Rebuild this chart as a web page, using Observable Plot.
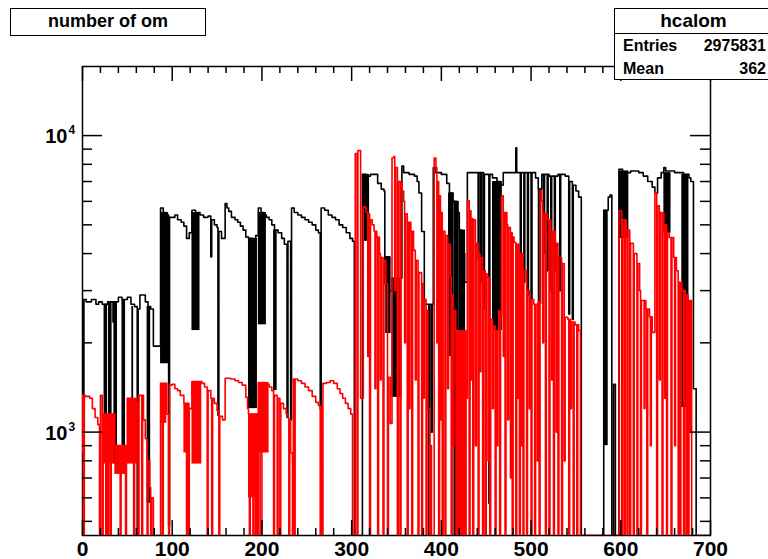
<!DOCTYPE html>
<html>
<head>
<meta charset="utf-8">
<script src="https://cdn.jsdelivr.net/npm/d3@7"></script>
<script src="https://cdn.jsdelivr.net/npm/@observablehq/plot@0.6"></script>
<style>
  html, body { margin: 0; padding: 0; background: #fff; }
  #wrap { position: relative; width: 768px; height: 559px; overflow: hidden;
          font-family: "Liberation Sans", Arial, Helvetica, sans-serif; font-weight: bold; color: #000; }
  #chart { position: absolute; left: 0; top: 0; }
  .box { position: absolute; background: #fff; border: 1.5px solid #000; box-sizing: border-box; }
  #title { left: 10px; top: 8px; width: 196px; height: 28px; font-size: 18px;
           text-align: center; line-height: 25px; }
  #stats { left: 614px; top: 8px; width: 159px; height: 72px; }
  #stats .hdr { height: 24px; border-bottom: 1.5px solid #000; text-align: center;
                font-size: 19px; line-height: 23px; }
  #stats .row { position: relative; height: 23px; font-size: 16px; line-height: 23px; }
  #stats .row .k { position: absolute; left: 8px; }
  #stats .row .v { position: absolute; right: 6px; }
</style>
</head>
<body>
<div id="wrap">
  <div id="chart"></div>
  <div class="box" id="title">number of om</div>
  <div class="box" id="stats">
    <div class="hdr">hcalom</div>
    <div class="row"><span class="k">Entries</span><span class="v">2975831</span></div>
    <div class="row"><span class="k">Mean</span><span class="v">362</span></div>
  </div>
</div>
<script>
// ---------------- data ----------------
const xDomain = [0, 700];
const yDomain = [448, 17100];

// black histogram: [bin start, level] steps (0 = empty bin)
const blackSteps = [
  [0,2800],[4,2750],[10,2800],[15,2700],[18,2750],[22,2700],[28,2750],[34,2350],[35,2750],[40,2850],
  [44,2800],[50,2850],[54,2700],[58,2650],[61,2600],[64,2900],[70,2750],[73,2650],[76,2600],[79,1950],
  [87,5700],[90,5500],[93,5400],[97,5300],[103,5400],[106,5200],[110,5100],[113,4950],[116,4500],[119,4700],
  [122,5600],[126,5500],[131,5400],[135,5300],[140,5350],[143,3900],[144,5200],[147,5000],[150,4900],[152,4750],
  [155,4500],[159,5900],[161,5700],[163,5550],[166,5300],[170,5200],[173,5100],[176,4950],[179,4800],[182,4550],
  [185,4500],[190,4400],[193,4600],[196,5700],[199,5500],[202,5400],[205,5300],[208,5200],[211,5000],[214,4800],
  [218,4700],[222,4500],[225,4300],[229,4400],[233,5700],[236,5500],[240,5400],[244,5300],[248,5200],[252,5100],
  [256,5000],[260,4800],[263,4700],[266,5700],[270,5600],[274,5400],[278,5300],[282,5200],[286,5000],[290,4900],
  [294,4700],[298,4500],[301,4400],[303,0],[312,7400],[316,7300],[321,7400],[329,6900],[333,6600],[336,6500],
  [338,3900],[342,3000],[345,3300],[356,7900],[358,7500],[364,7400],[370,7300],[373,7000],[375,6400],[378,4750],
  [381,2700],[391,7800],[393,7500],[400,7400],[406,6900],[409,6400],[413,6000],[417,5500],[420,4800],[423,4000],
  [426,3200],[429,7500],[440,7500],[448,7400],[457,7200],[462,7000],[466,6800],[469,7500],[505,7200],[508,6600],
  [512,7400],[520,7300],[530,7400],[538,7300],[542,7000],[546,6800],[550,6500],[553,6200],[556,0],[581,5600],
  [586,6200],[588,6300],[590,0],[592,1450],[594,0],[598,7700],[602,7500],[611,7600],[620,7500],[625,7300],
  [630,7000],[635,6700],[638,6400],[641,7200],[645,7500],[648,7800],[650,7600],[660,7500],[670,7400],[676,7200],
  [678,7000],[681,1400],[684,0]
];
// black single-bin dips / spikes: [bin, value]
const blackDips = [
  [61,0],[96,480],[151,1140],[228,1120],[232,1100],[265,1200],[337,3170],[386,0],[389,1000],
  [441,3800],[444,3200],[447,2600],[453,575],[483,9100],[488,3600],[492,3200],[496,2900],[500,2800],
  [514,4000],[518,3500],[522,3000],[526,3500],[532,3000],[542,2500],[546,2400]
];
// black dense oscillation envelopes: [x0, x1, low, high]
const blackBands = [
  [0,3,1300,2800],[24,28,920,2700],[29,33,800,2750],[35,39,780,2750],[44,48,780,2800],[55,57,800,2650],
  [72,76,575,2650],[87,96,1700,5500],[122,131,2200,5500],[185,195,1200,4500],[196,205,2300,5500],
  [213,217,1380,4800],[312,320,4400,7400],[338,344,2150,3900],[345,356,1310,3300],[408,414,1800,6400],
  [414,420,448,6000],[420,427,1490,4800],[457,468,2200,7000],[508,512,2700,6600],[581,586,900,5600],
  [598,609,4500,7600],[648,656,4680,7500],[668,676,1210,7400]
];

// red histogram: [bin start, level] steps (0 = empty bin)
const redSteps = [
  [0,1330],[3,1320],[8,1300],[11,1200],[14,1120],[17,1060],[19,0],[20,1330],[23,1150],[36,900],
  [50,1300],[58,1250],[63,1330],[68,1100],[70,950],[73,800],[75,650],[77,600],[79,0],[87,1460],
  [94,1150],[96,0],[97,1440],[100,1450],[103,1400],[106,1380],[109,1330],[113,1250],[119,1200],[122,1480],
  [133,1460],[136,1420],[140,1380],[143,1300],[147,1250],[150,1180],[153,1130],[156,1100],[159,1520],[165,1510],
  [170,1490],[174,1470],[178,1440],[182,1310],[184,1200],[185,1150],[195,0],[196,1470],[203,1460],[206,1450],
  [208,1420],[211,1380],[214,1330],[218,1300],[221,1250],[224,1200],[227,1150],[229,1120],[231,1100],[232,850],
  [234,0],[235,1510],[240,1490],[244,1460],[248,1420],[252,1380],[256,1320],[260,1260],[263,1230],[265,0],
  [266,1220],[267,0],[268,1460],[272,1470],[276,1490],[280,1460],[284,1400],[287,1350],[290,1300],[293,1250],
  [296,1200],[299,1150],[301,0],[304,8700],[306,0],[307,8900],[310,1300],[313,5750],[316,5500],[319,5450],
  [321,5200],[323,5000],[325,4760],[328,4550],[331,4000],[333,3880],[336,3800],[338,3170],[340,2500],[341,1530],
  [343,1070],[345,8400],[347,8500],[349,7800],[352,7000],[356,6500],[358,6000],[360,5450],[363,5100],[366,4760],
  [369,4100],[372,3800],[375,3450],[378,3170],[381,2800],[383,2570],[385,1200],[387,0],[388,900],[390,0],
  [392,8400],[394,7800],[396,7000],[398,6270],[400,5500],[402,4760],[405,4600],[408,4300],[410,3330],[412,2900],
  [414,2570],[416,2200],[420,1800],[424,1500],[427,1300],[429,6040],[432,5580],[434,5250],[436,5200],[438,4330],
  [441,4000],[444,3880],[447,3500],[449,3420],[451,3330],[455,2400],[458,2280],[460,2200],[464,2570],[466,2450],
  [467,6270],[470,5500],[473,5000],[475,4900],[477,4700],[479,4550],[481,4360],[484,4300],[488,4000],[492,3500],
  [495,3000],[499,2800],[503,2700],[507,2750],[510,6530],[512,6000],[514,5460],[518,5200],[522,4760],[527,4330],
  [531,3880],[535,3700],[538,2440],[541,2400],[545,2350],[549,2300],[553,2200],[555,0],[598,5580],[602,5200],
  [606,4800],[611,4330],[615,4000],[618,3700],[621,3000],[623,2780],[628,2600],[632,2450],[635,2170],[638,6430],
  [641,5800],[644,5500],[648,5000],[651,4700],[654,4530],[659,3880],[662,3500],[665,3200],[668,3000],[672,2900],
  [676,2780],[679,0]
];
// red single-bin dips: [bin, value]
const redDips = [
  [1,0],[22,0],[26,0],[28,0],[31,0],[42,0],[48,0],[57,0],[62,0],[66,0],[72,0],[76,0],[83,0],[89,0],
  [116,0],[118,0],[139,0],[144,0],[152,0],[186,0],[190,0],[193,0],[198,0],[199,0],[213,0],[217,0],
  [220,0],[230,0],[236,0],
  [318,1800],[320,0],[326,1400],[329,0],[332,1500],[335,0],[340,0],[348,3000],[351,0],[354,0],[359,2000],
  [362,0],[364,1200],[367,0],[371,1500],[374,0],[378,0],[380,1300],[383,0],[389,0],[395,2000],[397,0],
  [399,1100],[401,0],[404,0],[407,1400],[411,0],[413,900],[419,0],[424,0],[431,0],[433,1500],[435,0],
  [438,900],[441,0],[443,1600],[446,0],[449,0],[452,800],[454,0],[457,1200],[460,0],[462,900],[465,0],
  [469,1800],[471,0],[474,1100],[477,700],[479,0],[483,0],[485,1300],[487,0],[489,900],[491,0],[495,0],
  [498,1200],[500,0],[504,0],[507,800],[509,0],[513,2000],[516,0],[520,0],[523,1500],[525,0],[528,1000],
  [530,0],[534,0],[537,800],[542,0],[544,1200],[547,0],[551,0],
  [601,0],[604,0],[607,0],[610,0],[614,0],[618,0],[622,0],[626,1200],[629,0],[633,900],[640,0],[643,1500],
  [646,0],[649,1300],[651,0],[656,0],[660,900],[664,0],[666,0],[670,0],[673,0],[675,0],[677,1000]
];
// red dense oscillation envelopes: [x0, x1, low, high]
const redBands = [
  [0,3,850,1330],[23,36,780,1150],[36,50,720,900],[50,62,780,1300],[87,94,1070,1460],[113,120,850,1250],
  [122,133,780,1480],[185,195,600,1150],[196,208,850,1470],[416,429,448,2200]
];

const xMajorTicks = [0, 100, 200, 300, 400, 500, 600, 700];
const yMajorTicks = [1000, 10000];
const yMinorTicks = [500, 600, 700, 800, 900, 2000, 3000, 4000, 5000, 6000, 7000, 8000, 9000];

// ---------------- build ----------------
const W = 768, H = 559, mL = 82, mR = 58, mT = 66, mB = 24;
const xMinorTicks = d3.range(0, 701, 20).filter(v => v % 100 !== 0);

function histPoints(steps, dips) {
  const n = xDomain[1];
  const v = new Array(n);
  let j = 0;
  for (let i = 0; i < n; i++) {
    while (j + 1 < steps.length && steps[j + 1][0] <= i) j++;
    v[i] = steps[j][1];
  }
  dips.forEach(([b, val]) => { v[b] = val; });
  const pts = v.map((val, i) => ({x: i, y: val > 0 ? Math.max(val, yDomain[0]) : yDomain[0]}));
  pts.push({x: n, y: pts[n - 1].y});
  return pts;
}
const blackPts = histPoints(blackSteps, blackDips);
const redPts = histPoints(redSteps, redDips);
const bandRows = (bands) => bands.map(([x0, x1, lo, hi]) => ({x0, x1, lo: Math.max(lo, yDomain[0]), hi}));

const xs = Plot.scale({x: {domain: xDomain, range: [mL, W - mR]}});
const ys = Plot.scale({y: {type: "log", domain: yDomain, range: [H - mB, mT]}});
const yAt = (py) => ys.invert(py);
const xAt = (px) => xs.invert(px);

const tickStyle = {stroke: "black", strokeWidth: 1.5};

const chart = Plot.plot({
  width: W, height: H,
  marginLeft: mL, marginRight: mR, marginTop: mT, marginBottom: mB,
  x: {domain: xDomain, axis: null},
  y: {type: "log", domain: yDomain, axis: null},
  style: {fontFamily: "'Liberation Sans', Arial, Helvetica, sans-serif", background: "white", color: "black", overflow: "visible"},
  marks: [
    Plot.frame({stroke: "black", strokeWidth: 1.5}),
    Plot.rect(bandRows(blackBands), {x1: "x0", x2: "x1", y1: "lo", y2: "hi", fill: "black", clip: true}),
    Plot.line(blackPts, {x: "x", y: "y", curve: "step-after", stroke: "black", strokeWidth: 1.6, clip: true}),
    Plot.rect(bandRows(redBands), {x1: "x0", x2: "x1", y1: "lo", y2: "hi", fill: "#ff0000", clip: true}),
    Plot.line(redPts, {x: "x", y: "y", curve: "step-after", stroke: "#ff0000", strokeWidth: 1.6, clip: true}),
    // x ticks (bottom, pointing up; top, pointing down)
    Plot.ruleX(xMajorTicks, {x: d => d, y1: yDomain[0], y2: yAt(H - mB - 15), ...tickStyle}),
    Plot.ruleX(xMinorTicks, {x: d => d, y1: yDomain[0], y2: yAt(H - mB - 7), ...tickStyle}),
    Plot.ruleX(xMajorTicks, {x: d => d, y1: yAt(mT + 15), y2: yDomain[1], ...tickStyle}),
    Plot.ruleX(xMinorTicks, {x: d => d, y1: yAt(mT + 7), y2: yDomain[1], ...tickStyle}),
    // y ticks (left, pointing right; right, pointing left)
    Plot.ruleY(yMajorTicks, {y: d => d, x1: xDomain[0], x2: xAt(mL + 20), ...tickStyle}),
    Plot.ruleY(yMinorTicks, {y: d => d, x1: xDomain[0], x2: xAt(mL + 10), ...tickStyle}),
    Plot.ruleY(yMajorTicks, {y: d => d, x1: xAt(W - mR - 20), x2: xDomain[1], ...tickStyle}),
    Plot.ruleY(yMinorTicks, {y: d => d, x1: xAt(W - mR - 10), x2: xDomain[1], ...tickStyle}),
    // labels
    Plot.text(xMajorTicks, {x: d => d, y: yDomain[0], text: d => String(d), dy: 14, lineAnchor: "middle",
      fontSize: 21, fontWeight: "bold", fill: "black"}),
    Plot.text(yMajorTicks, {x: xDomain[0], y: d => d, text: () => "10", textAnchor: "end", dx: -15, dy: 1,
      lineAnchor: "middle", fontSize: 20, fontWeight: "bold", fill: "black"}),
    Plot.text(yMajorTicks, {x: xDomain[0], y: d => d, text: d => String(Math.round(Math.log10(d))), textAnchor: "start",
      dx: -14, dy: -5, lineAnchor: "middle", fontSize: 12, fontWeight: "bold", fill: "black"})
  ]
});
document.getElementById("chart").appendChild(chart);
</script>
</body>
</html>
